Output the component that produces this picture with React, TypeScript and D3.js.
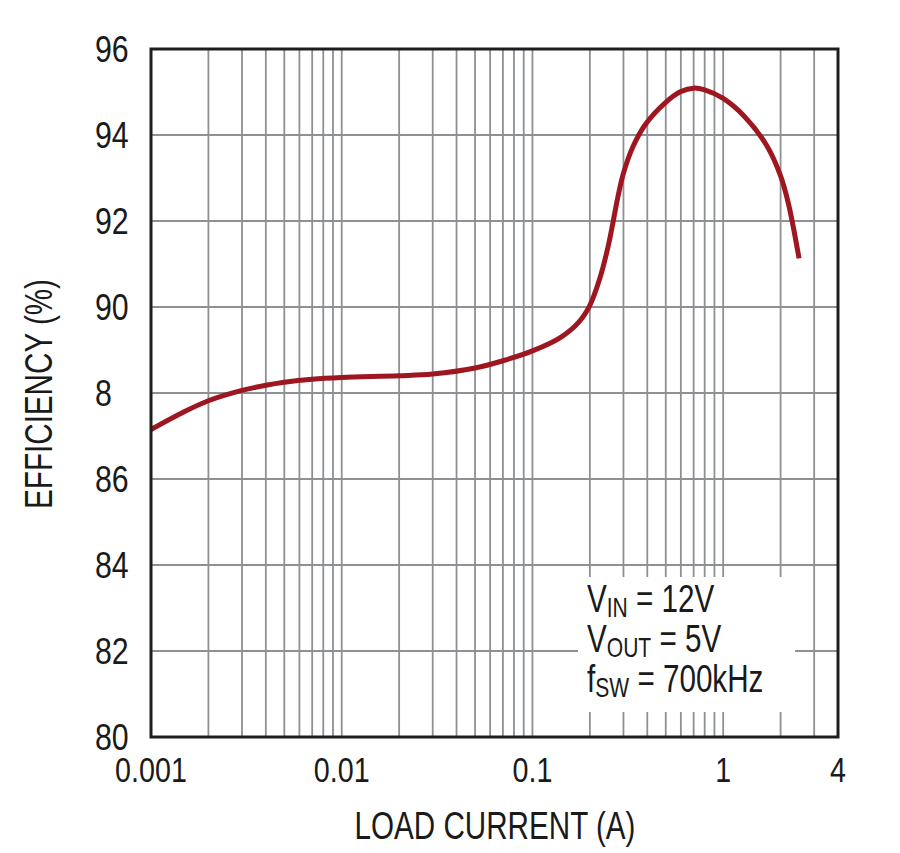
import React from "react";
import * as d3 from "d3";

const loadCurrent = [0.001, 0.0015, 0.002, 0.003, 0.004, 0.005, 0.007, 0.01, 0.02, 0.03, 0.05, 0.07, 0.1, 0.14, 0.175, 0.2, 0.225, 0.25, 0.265, 0.28, 0.3, 0.335, 0.39, 0.5, 0.6, 0.7, 0.8, 1, 1.3, 1.7, 2, 2.2, 2.5];
const efficiency = [87.15, 87.57, 87.82, 88.06, 88.18, 88.25, 88.32, 88.36, 88.4, 88.44, 88.58, 88.75, 88.98, 89.29, 89.65, 90.04, 90.65, 91.43, 91.99, 92.54, 93.11, 93.71, 94.24, 94.76, 95.01, 95.09, 95.05, 94.85, 94.42, 93.74, 93.05, 92.4, 91.13];

const xTickValues = [0.001, 0.01, 0.1, 1, 4];
const xTickLabels = ["0.001", "0.01", "0.1", "1", "4"];
const xGridValues = [0.002, 0.003, 0.004, 0.005, 0.006, 0.007, 0.008, 0.009, 0.01, 0.02, 0.03, 0.04, 0.05, 0.06, 0.07, 0.08, 0.09, 0.1, 0.2, 0.3, 0.4, 0.5, 0.6, 0.7, 0.8, 0.9, 1, 2, 3];
const yTickValues = [80, 82, 84, 86, 88, 90, 92, 94, 96];
const yTickLabels = ["80", "82", "84", "86", "8", "90", "92", "94", "96"];

const FONT = "'Liberation Sans', Arial, Helvetica, sans-serif";

function CText({ x, y, size, sx = 0.8, anchor = "start", rotate = 0, children }: any) {
  return (
    <text
      transform={`translate(${x},${y}) rotate(${rotate}) scale(${sx},1)`}
      fontFamily={FONT}
      fontSize={size}
      textAnchor={anchor}
      fill="#1a1a1a"
    >
      {children}
    </text>
  );
}

export default function App() {
  const left = 151, right = 838, top = 49, bottom = 737;
  const x = d3.scaleLog().domain([0.001, 4]).range([left, right]);
  const y = d3.scaleLinear().domain([80, 96]).range([bottom, top]);

  const pts: [number, number][] = loadCurrent.map((c, i) => [x(c), y(efficiency[i])]);
  const line = d3.line().curve(d3.curveCatmullRom.alpha(0.5))(pts) || "";

  const box = { x0: 578, x1: 795, y0: 577, y1: 712 };
  const gridColor = "#8d9094";

  return (
    <svg width={900} height={853} style={{ position: "absolute", left: 0, top: 0, background: "#fff" }}>
      <rect x={0} y={0} width={900} height={853} fill="#fff" />
      {xGridValues.map((v) => (
        <line key={"xg" + v} x1={x(v)} x2={x(v)} y1={top} y2={bottom} stroke={gridColor} strokeWidth={1.8} />
      ))}
      {yTickValues.slice(1, -1).map((v) => (
        <line key={"yg" + v} x1={left} x2={right} y1={y(v)} y2={y(v)} stroke={gridColor} strokeWidth={1.8} />
      ))}
      <rect x={box.x0} y={box.y0} width={box.x1 - box.x0} height={box.y1 - box.y0} fill="#fff" />
      <path d={line} fill="none" stroke="#9e1620" strokeWidth={5} strokeLinecap="butt" />
      <rect x={left} y={top} width={right - left} height={bottom - top} fill="none" stroke="#1e1e20" strokeWidth={3} />

      {yTickValues.map((v, i) => (
        <CText key={"yt" + v} x={95} y={y(v) + 13} size={37} sx={0.82}>
          {yTickLabels[i]}
        </CText>
      ))}
      {xTickValues.map((v, i) => (
        <CText key={"xt" + v} x={x(v)} y={782} size={35} sx={0.82} anchor="middle">
          {xTickLabels[i]}
        </CText>
      ))}
      <CText x={495} y={839} size={39} sx={0.76} anchor="middle">LOAD CURRENT (A)</CText>
      <CText x={52} y={394} size={39} sx={0.76} anchor="middle" rotate={-90}>EFFICIENCY (%)</CText>

      <CText x={587} y={612} size={38} sx={0.78}>
        V<tspan fontSize={27} dy={5}>IN</tspan><tspan dy={-5}> = 12V</tspan>
      </CText>
      <CText x={587} y={652} size={38} sx={0.78}>
        V<tspan fontSize={27} dy={5}>OUT</tspan><tspan dy={-5}> = 5V</tspan>
      </CText>
      <CText x={587} y={692} size={38} sx={0.78}>
        f<tspan fontSize={27} dy={5}>SW</tspan><tspan dy={-5}> = 700kHz</tspan>
      </CText>
    </svg>
  );
}
